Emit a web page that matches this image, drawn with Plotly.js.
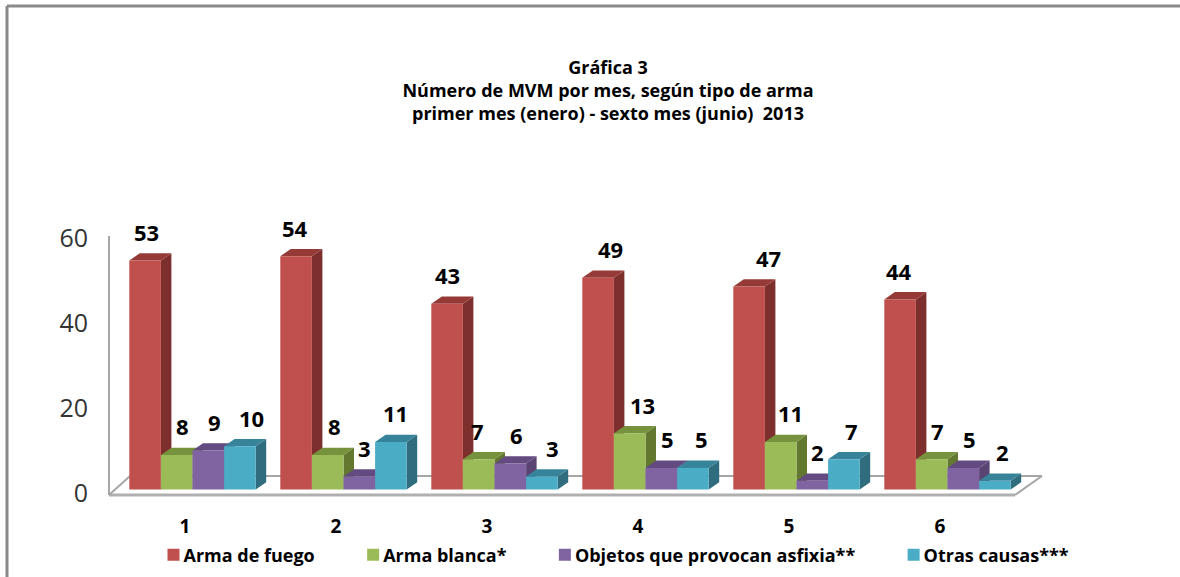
<!DOCTYPE html>
<html>
<head>
<meta charset="utf-8">
<script src="https://cdn.plot.ly/plotly-3.0.1.min.js"></script>
<style>html,body{margin:0;padding:0;background:#fff}#chart{width:1180px;height:577px}</style>
</head>
<body>
<div id="chart"></div>
<script>
const months = [1, 2, 3, 4, 5, 6];
const armaFuego = [53, 54, 43, 49, 47, 44];
const armaBlanca = [8, 8, 7, 13, 11, 7];
const asfixia = [9, 3, 6, 5, 2, 5];
const otras = [10, 11, 3, 5, 7, 2];
const seriesNames = ['Arma de fuego', 'Arma blanca*', 'Objetos que provocan asfixia**', 'Otras causas***'];
const yTicks = [0, 20, 40, 60];

// styling
const fronts = ['#C0504D', '#9BBB59', '#8064A2', '#4BACC6'];
const tops = ['#963A38', '#76923C', '#634A80', '#37839A'];
const sides = ['#7C2F2D', '#63782F', '#5A4473', '#2F6C7E'];
const labelShiftX = [
  [1, -1, 0, 12, 19, -1],
  [6, 7, -1, 13, 10, 6],
  [6, 5, 6, 6, 5, 6],
  [12, 5, 11, 9, 8, 8]
];
const all = [armaFuego, armaBlanca, asfixia, otras];
const legendPad = '\u00a0\u00a0\u00a0\u00a0\u00a0';

// plot frame in pixels
const L = 100, R = 1060, T = 200, B = 500, W = 1180, H = 577;
const pxX = 151, pxY = 4.32, zeroPx = 489.5, firstCenter = 192.5;
const xRange = [1 - (firstCenter - L) / pxX, 1 + (R - firstCenter) / pxX];
const yRange = [-(B - zeroPx) / pxY, (zeroPx - T) / pxY];
const barW = 31.6 / pxX, dx = 10.5 / pxX, dy = 7.3 / pxY;

const traces = all.map((vals, s) => ({
  type: 'bar', name: seriesNames[s] + (s < 3 ? legendPad : ''), x: months, y: vals,
  marker: {color: fronts[s], line: {width: 0}},
  hoverinfo: 'x+y+name'
}));

const shapes = [];
const px = (x, y) => ({x: (x - L) / (R - L), y: (B - y) / (B - T)});
function line(x0, y0, x1, y1, color, width) {
  const a = px(x0, y0), b = px(x1, y1);
  shapes.push({type: 'line', xref: 'paper', yref: 'paper', x0: a.x, y0: a.y, x1: b.x, y1: b.y,
    layer: 'below', line: {color, width}});
}
// page frame
line(7, 6, 1180, 6, '#8a8a8a', 3);
line(7, 6, 7, 577, '#8a8a8a', 3);
// walls and floor
line(109, 236, 109, 495, '#a6a6a6', 2);
line(109, 495, 1015, 495, '#b0b0b0', 3);
line(109, 495, 130, 476, '#a6a6a6', 2);
line(130, 476, 1042, 476, '#a6a6a6', 2);
line(1015, 495, 1042, 476, '#a6a6a6', 2);

// 3D faces behind each front bar, derived from the values
all.forEach((vals, s) => {
  vals.forEach((v, i) => {
    const x0 = months[i] + (s - 2) * barW, x1 = x0 + barW;
    shapes.push({type: 'path', xref: 'x', yref: 'y', layer: 'below', line: {width: 0}, fillcolor: sides[s],
      path: `M${x1},0 L${x1 + dx},${dy} L${x1 + dx},${v + dy} L${x1},${v} Z`});
    shapes.push({type: 'path', xref: 'x', yref: 'y', layer: 'below', line: {width: 0}, fillcolor: tops[s],
      path: `M${x0},${v} L${x1},${v} L${x1 + dx},${v + dy} L${x0 + dx},${v + dy} Z`});
  });
});

const annotations = [];
all.forEach((vals, s) => vals.forEach((v, i) => {
  annotations.push({
    x: months[i] + (s - 1.5) * barW, y: v, xref: 'x', yref: 'y', text: String(v), showarrow: false,
    xanchor: 'center', yanchor: 'middle', xshift: labelShiftX[s][i], yshift: 28.5,
    font: {family: 'Open Sans', size: 22, color: '#000', weight: 700}
  });
}));

const layout = {
  width: W, height: H, autosize: false,
  margin: {l: L, r: W - R, t: T, b: H - B, pad: 0, autoexpand: false},
  paper_bgcolor: '#fff', plot_bgcolor: 'rgba(0,0,0,0)',
  title: {
    text: '<b>Gráfica 3<br>Número de MVM por mes, según tipo de arma<br>primer mes (enero) - sexto mes (junio)  2013</b>',
    font: {family: 'Open Sans', size: 18, color: '#000'},
    x: 608 / W, xanchor: 'center', y: 1 - 73.5 / H, yanchor: 'middle', automargin: false
  },
  barmode: 'group', bargap: 1 - 4 * barW, bargroupgap: 0,
  showlegend: true,
  legend: {
    orientation: 'h', x: (143.5 - L) / (R - L), xanchor: 'left', y: (B - 555) / (B - T), yanchor: 'middle',
    font: {family: 'Open Sans', size: 18, color: '#000', weight: 700},
    bgcolor: 'rgba(0,0,0,0)', traceorder: 'normal'
  },
  xaxis: {
    range: xRange, showgrid: false, zeroline: false, showline: false, ticks: '',
    tickmode: 'array', tickvals: months.map(m => m - 7.5 / pxX), ticktext: months.map(String),
    tickfont: {family: 'Open Sans', size: 19, color: '#000', weight: 700},
    ticklabelstandoff: 13
  },
  yaxis: {
    range: yRange, showgrid: false, zeroline: false, showline: false, ticks: '',
    tickmode: 'array',
    tickvals: yTicks.map(t => (zeroPx - (493.5 - t * 4.25)) / pxY),
    ticktext: yTicks.map(String),
    tickfont: {family: 'Open Sans', size: 25, color: '#333'},
    ticklabelstandoff: 11
  },
  shapes, annotations
};
Plotly.newPlot('chart', traces, layout, {displayModeBar: false, responsive: false}).then(() => {
  document.querySelectorAll('#chart .legendsymbols').forEach(g => g.setAttribute('transform', 'translate(10,0)'));
});
</script>
</body>
</html>
